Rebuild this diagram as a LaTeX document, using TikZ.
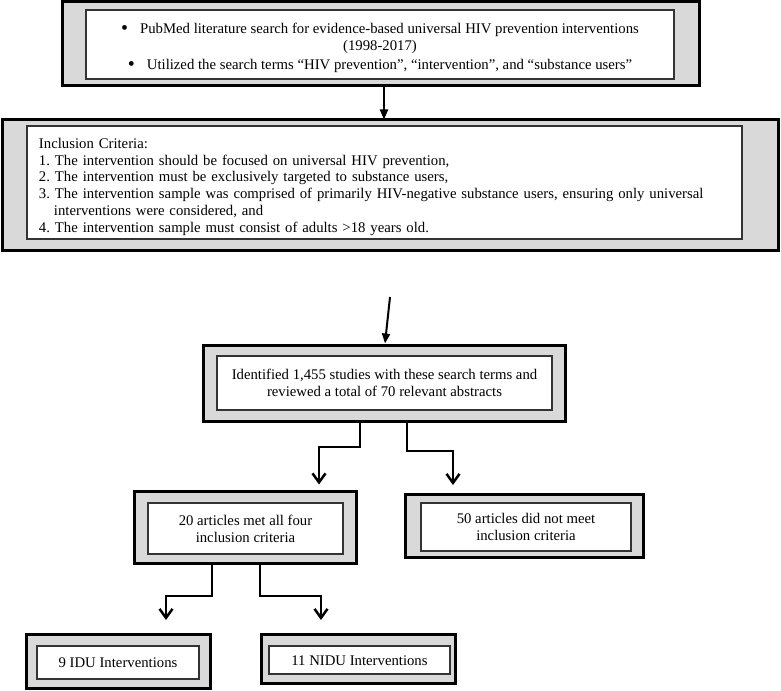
\documentclass[tikz,border=0pt]{standalone}
\usepackage{fontspec}
\setmainfont{Liberation Serif}
\frenchspacing
\usetikzlibrary{arrows.meta}
\definecolor{boxgray}{RGB}{217,217,217}
\newcommand{\bigbullet}{\raisebox{-1bp}{\fontsize{20}{17}\selectfont\textbullet}}
\begin{document}
\begin{tikzpicture}[x=1bp,y=-1bp,
  outerbox/.style={draw,line width=3.4bp,fill=boxgray,inner sep=0pt,outer sep=0pt},
  innerbox/.style={draw=black!80,line width=1.3bp,fill=white,inner sep=0pt,outer sep=0pt,
    align=center,font=\fontsize{14.8}{17}\selectfont},
  headarrow/.style={line width=2bp,-{Triangle[length=10bp,width=8bp]}},
  branch/.style={line width=2bp,-{Straight Barb[length=9bp,width=13bp,line width=2.5bp]}}]
\useasboundingbox (0,0) rectangle (781,691);

\draw (381,43.5) node[outerbox,minimum width=637bp,minimum height=84bp] (search) {};
\draw (380,44.5) node[innerbox,minimum width=588bp,minimum height=69bp] (searchtxt)
  {\rule{0pt}{17bp}\bigbullet\hspace{12bp}PubMed literature search for evidence-based universal HIV prevention interventions\\
   (1998-2017)\\[2bp]
   \bigbullet\hspace{12bp}Utilized the search terms “HIV prevention”, “intervention”, and “substance users”};

\draw (390.5,185) node[outerbox,minimum width=776bp,minimum height=131bp] (criteria) {};
\draw (384.5,182.5) node[innerbox,minimum width=715bp,minimum height=113bp,
  text width=691bp,align=left] (criteriatxt)
  {\rule{0pt}{19bp}Inclusion Criteria:\\
   1. The intervention should be focused on universal HIV prevention,\\
   2. The intervention must be exclusively targeted to substance users,\\
   3. The intervention sample was comprised of primarily HIV-negative substance users, ensuring only universal\\
   \hspace*{15bp}interventions were considered, and\\
   4. The intervention sample must consist of adults >18 years old.};

\draw (384.5,383.5) node[outerbox,minimum width=362bp,minimum height=76bp] (ident) {};
\draw (384.5,383) node[innerbox,minimum width=335bp,minimum height=54bp] (identtxt)
  {Identified 1,455 studies with these search terms and\\reviewed a total of 70 relevant abstracts};

\draw (245.5,527.5) node[outerbox,minimum width=222bp,minimum height=72bp] (met) {};
\draw (245.5,528.5) node[innerbox,minimum width=195bp,minimum height=51bp] (mettxt)
  {20 articles met all four\\inclusion criteria};

\draw (524.5,526) node[outerbox,minimum width=238bp,minimum height=63bp] (unmet) {};
\draw (526,527) node[innerbox,minimum width=210bp,minimum height=48bp] (unmettxt)
  {50 articles did not meet\\inclusion criteria};

\draw (118.5,661.5) node[outerbox,minimum width=184bp,minimum height=54bp] (idu) {};
\draw (118,662.5) node[innerbox,minimum width=162bp,minimum height=33bp] (idutxt)
  {9 IDU Interventions};

\draw (358.5,659) node[outerbox,minimum width=194bp,minimum height=49bp] (nidu) {};
\draw (359.5,660) node[innerbox,minimum width=181bp,minimum height=28bp] (nidutxt)
  {\rule{0pt}{12bp}11 NIDU Interventions};

\coordinate (gap) at (390,297);

\draw[headarrow] ([xshift=3bp]search.south) -- ([xshift=3bp]search.south |- criteria.north);
\draw[headarrow] (gap) -- ([xshift=0.5bp,yshift=2bp]ident.north);

\draw[branch] ([xshift=-24.5bp]ident.south) -- ++(0,25) -| ([xshift=73.5bp,yshift=7bp]met.north);
\draw[branch] ([xshift=22.5bp]ident.south) -- ++(0,29) -| ([xshift=-71.5bp,yshift=9.5bp]unmet.north);
\draw[branch] ([xshift=-33.5bp]met.south) -- ++(0,32) -| ([xshift=47.5bp,yshift=14.5bp]idu.north);
\draw[branch] ([xshift=14.5bp]met.south) -- ++(0,32) -| ([xshift=-37.5bp,yshift=14.5bp]nidu.north);
\end{tikzpicture}
\end{document}
